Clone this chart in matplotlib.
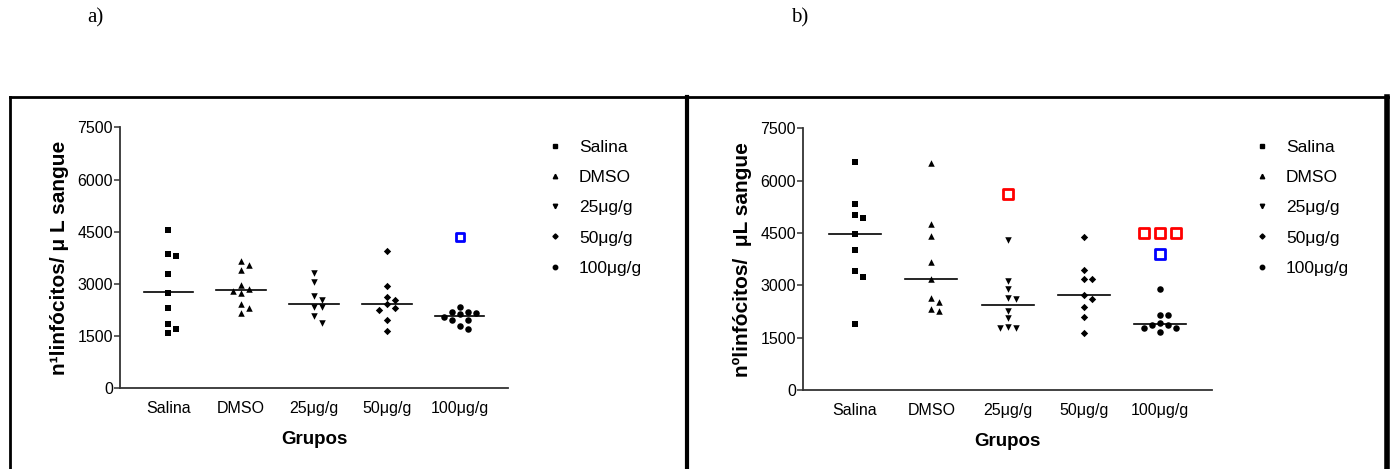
import numpy as np
import matplotlib
matplotlib.use("Agg")
import matplotlib.pyplot as plt
from matplotlib.lines import Line2D

plt.rcParams["font.family"] = ["Liberation Sans", "DejaVu Sans"]

groups = ["Salina", "DMSO", "25μg/g", "50μg/g", "100μg/g"]
markers = ["s", "^", "v", "D", "o"]

# panel a) values (cells / uL blood)
a_salina = [4553, 3858, 3801, 3289, 2749, 2305, 1842, 1707, 1582]
a_dmso = [3656, 3550, 3405, 2971, 2836, 2807, 2739, 2431, 2296, 2170]
a_25 = [3318, 3048, 2662, 2547, 2325, 2325, 2074, 1881]
a_50 = [3955, 2932, 2633, 2547, 2431, 2296, 2238, 1948, 1649]
a_100 = [2344, 2199, 2180, 2161, 2141, 2045, 1948, 1948, 1775, 1707]
a_medians = [2759, 2817, 2431, 2431, 2074]
a_blue = {4: [4350]}
a_red = {}

# panel b)
b_salina = [6545, 5341, 5006, 4930, 4462, 4003, 3411, 3229, 1882]
b_dmso = [6497, 4748, 4423, 3659, 3191, 2646, 2513, 2322, 2264]
b_25 = [4309, 3134, 2895, 2627, 2599, 2274, 2054, 1806, 1767, 1767]
b_50 = [4395, 3439, 3191, 3191, 2732, 2608, 2389, 2102, 1624]
b_100 = [2886, 2150, 2150, 1929, 1863, 1863, 1786, 1786, 1662]
b_medians = [4481, 3191, 2427, 2732, 1883]
b_blue = {4: [3888]}
b_red = {2: [5608], 4: [4490, 4490, 4490]}

yticks = [0, 1500, 3000, 4500, 6000, 7500]

W, H = 1390, 469
fig = plt.figure(figsize=(W / 100, H / 100), dpi=100)


def swarm(vals, ypx, step, size):
    # simple column-scatter: push overlapping points sideways
    placed, offs = [], []
    for v in vals:
        y = v * ypx
        for k in [0, 1, -1, 2, -2, 3, -3]:
            x = k * step
            if all((x - px) ** 2 + (y - py) ** 2 >= size ** 2 for px, py in placed):
                break
        placed.append((x, y))
        offs.append(x)
    return np.array(offs)


def panel(rect, data, medians, blue, red, ylabel, xlim, spacing_px, osize):
    ax = fig.add_axes(rect)
    ypx = rect[3] * H / 7500
    for i, vals in enumerate(data):
        offs = swarm(vals, ypx, 8, 7) / spacing_px
        ax.scatter(i + offs, vals, marker=markers[i], s=22 if markers[i] != "D" else 14,
                   color="black", linewidths=0, zorder=3)
        ax.plot([i - 0.34, i + 0.34], [medians[i]] * 2, color="black", lw=1.2, zorder=2)
    for cols, col in [(red, "#ff0000"), (blue, "#0000ff")]:
        for i, vals in cols.items():
            offs = swarm(vals, ypx, 16, 12) / spacing_px
            ax.scatter(i + offs, vals, marker="s", s=osize, facecolors="white",
                       edgecolors=col, linewidths=2, zorder=4)
    ax.set_xlim(*xlim)
    ax.set_ylim(0, 7500)
    ax.set_yticks(yticks)
    ax.set_xticks(range(len(groups)))
    ax.set_xticklabels(groups, fontsize=11.5)
    ax.tick_params(axis="x", length=0, pad=9)
    ax.tick_params(axis="y", length=4, width=1.1, pad=1, labelsize=11.5, color="#333333")
    for s in ["top", "right"]:
        ax.spines[s].set_visible(False)
    for s in ["left", "bottom"]:
        ax.spines[s].set_linewidth(1.3)
        ax.spines[s].set_color("#333333")
    ax.set_ylabel(ylabel, fontsize=15, fontweight="bold", labelpad=6)
    ax.set_xlabel("Grupos", fontsize=13.5, fontweight="bold", labelpad=11)
    handles = [Line2D([], [], marker=m, ls="", color="black", ms=3.2 if m != "D" else 2.6)
               for m in markers]
    return ax, handles


ax_a, h = panel([120 / W, (H - 388) / H, (508 - 120) / W, (388 - 127.5) / H],
                [a_salina, a_dmso, a_25, a_50, a_100], a_medians, a_blue, a_red,
                "n¹linfócitos/ μ L sangue", (-0.663, 4.663), 72.85, 30)
ax_a.legend(h, groups, loc="upper left", bbox_to_anchor=(532 / W, 1 - 124 / H),
            bbox_transform=fig.transFigure, frameon=False, fontsize=12.5,
            handlelength=0.8, handletextpad=1.0, labelspacing=0.87)

ax_b, h = panel([803 / W, (H - 390) / H, (1212 - 803) / W, (390 - 128.3) / H],
                [b_salina, b_dmso, b_25, b_50, b_100], b_medians, b_blue, b_red,
                "nºlinfócitos/  μL sangue", (-0.682, 4.68), 76.25, 48)
ax_b.legend(h, groups, loc="upper left", bbox_to_anchor=(1239 / W, 1 - 124 / H),
            bbox_transform=fig.transFigure, frameon=False, fontsize=12.5,
            handlelength=0.8, handletextpad=1.0, labelspacing=0.87)

# surrounding frame of the two panels
for x0, y0, x1, y1, lw in [(10, 97, 1388, 97, 2), (10, 97, 10, 469, 2),
                           (687, 97, 687, 469, 3), (1387, 97, 1387, 469, 4)]:
    fig.add_artist(Line2D([x0 / W, x1 / W], [1 - y0 / H, 1 - y1 / H],
                          transform=fig.transFigure, color="black", lw=lw))

fig.text(95 / W, 1 - 18 / H, "a)", fontsize=15, family="Liberation Serif", ha="center", va="center")
fig.text(800 / W, 1 - 18 / H, "b)", fontsize=15, family="Liberation Serif", ha="center", va="center")

fig.savefig("out.png", dpi=100)
